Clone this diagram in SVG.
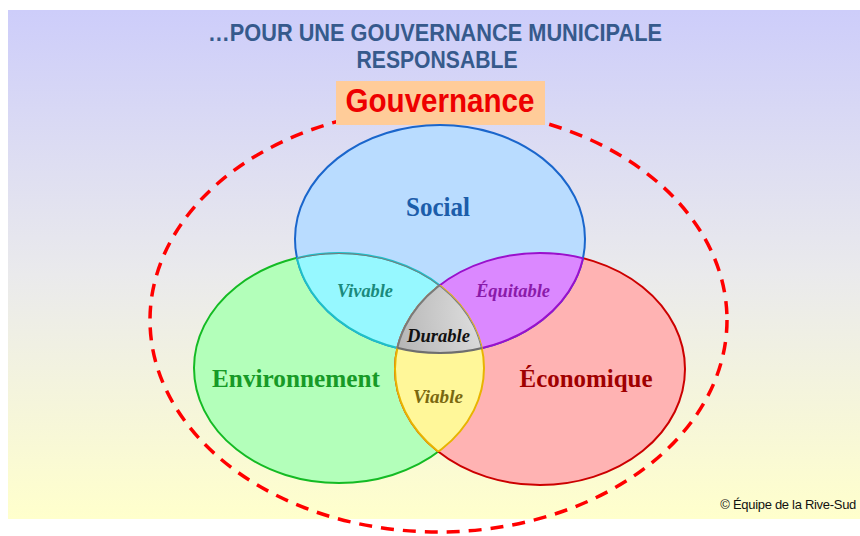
<svg xmlns="http://www.w3.org/2000/svg" width="860" height="536" viewBox="0 0 860 536">
  <defs>
    <linearGradient id="bg" x1="0" y1="0" x2="0" y2="1">
      <stop offset="0" stop-color="#CDCDFA"/>
      <stop offset="0.52" stop-color="#EAEAEC"/>
      <stop offset="1" stop-color="#FFFFCC"/>
    </linearGradient>
    <radialGradient id="gD" cx="0.5" cy="0.25" r="0.7">
      <stop offset="0" stop-color="#FAFAFA"/>
      <stop offset="1" stop-color="#9C9C9C"/>
    </radialGradient>
    <clipPath id="cS"><ellipse cx="440" cy="239" rx="145" ry="114"/></clipPath>
    <clipPath id="cE"><ellipse cx="339" cy="368" rx="145" ry="115"/></clipPath>
    <clipPath id="cC"><ellipse cx="540" cy="369" rx="145" ry="116"/></clipPath>
    <style>
      .title { font-family: "Liberation Sans", Arial, sans-serif; font-weight: bold; font-size: 23px; fill: #365A8C; text-anchor: middle; }
      .main { font-family: "Liberation Serif", "Times New Roman", serif; font-weight: bold; }
      .sub { font-family: "Liberation Serif", "Times New Roman", serif; font-weight: bold; font-style: italic; font-size: 19px; }
      .set { stroke-width: 2; }
    </style>
  </defs>

  <rect x="8" y="10" width="852" height="509" fill="url(#bg)"/>

  <g id="title">
    <text class="title" x="435" y="41" textLength="454" lengthAdjust="spacingAndGlyphs">…POUR UNE GOUVERNANCE MUNICIPALE</text>
    <text class="title" x="437" y="68" textLength="161" lengthAdjust="spacingAndGlyphs">RESPONSABLE</text>
  </g>

  <g id="gouvernance">
    <ellipse cx="438.5" cy="320" rx="288.5" ry="212" fill="none" stroke="#FF0000" stroke-width="3.5" stroke-dasharray="13 9"/>
    <rect x="336" y="81" width="209" height="44" fill="#FFCC99"/>
    <text x="440" y="112" text-anchor="middle" font-family="'Liberation Sans', Arial, sans-serif" font-weight="bold" font-size="33" fill="#EE0000" textLength="189" lengthAdjust="spacingAndGlyphs">Gouvernance</text>
  </g>

  <g id="environnement">
    <ellipse class="set" cx="339" cy="368" rx="145" ry="115" fill="#B3FFBA" stroke="#14BB24"/>
  </g>
  <g id="economique">
    <ellipse class="set" cx="540" cy="369" rx="145" ry="116" fill="#FFB3B3" stroke="#CC0000"/>
  </g>
  <g id="social">
    <ellipse class="set" cx="440" cy="239" rx="145" ry="114" fill="#B9DCFF" stroke="#1A66CC"/>
  </g>

  <g id="vivable">
    <g clip-path="url(#cS)"><ellipse class="set" cx="339" cy="368" rx="145" ry="115" fill="#96F8FF" stroke="#1FC0C8"/></g>
    <g clip-path="url(#cE)"><ellipse class="set" cx="440" cy="239" rx="145" ry="114" fill="none" stroke="#1FC0C8"/></g>
  </g>
  <g id="equitable">
    <g clip-path="url(#cS)"><ellipse class="set" cx="540" cy="369" rx="145" ry="116" fill="#DB88FF" stroke="#9A10CC"/></g>
    <g clip-path="url(#cC)"><ellipse class="set" cx="440" cy="239" rx="145" ry="114" fill="none" stroke="#9A10CC"/></g>
  </g>
  <g id="viable">
    <g clip-path="url(#cC)"><ellipse class="set" cx="339" cy="368" rx="145" ry="115" fill="#FFF799" stroke="#E8B400"/></g>
    <g clip-path="url(#cE)"><ellipse class="set" cx="540" cy="369" rx="145" ry="116" fill="none" stroke="#E8B400"/></g>
  </g>
  <g id="durable">
    <g clip-path="url(#cS)"><g clip-path="url(#cE)">
      <ellipse class="set" cx="540" cy="369" rx="145" ry="116" fill="url(#gD)" stroke="#7A7A7A"/>
      <ellipse class="set" cx="339" cy="368" rx="145" ry="115" fill="none" stroke="#7A7A7A"/>
    </g></g>
    <g clip-path="url(#cE)"><g clip-path="url(#cC)">
      <ellipse class="set" cx="440" cy="239" rx="145" ry="114" fill="none" stroke="#6E6E6E"/>
    </g></g>
  </g>

  <g id="labels">
    <text class="main" x="438" y="216" font-size="28" fill="#1C5DAA" text-anchor="middle" textLength="64" lengthAdjust="spacingAndGlyphs">Social</text>
    <text class="main" x="296" y="387" font-size="26" fill="#179A27" text-anchor="middle" textLength="168" lengthAdjust="spacingAndGlyphs">Environnement</text>
    <text class="main" x="586" y="387" font-size="26" fill="#A00000" text-anchor="middle" textLength="133" lengthAdjust="spacingAndGlyphs">Économique</text>
    <text class="sub" x="365" y="297" fill="#1A8A7C" text-anchor="middle" textLength="56" lengthAdjust="spacingAndGlyphs">Vivable</text>
    <text class="sub" x="513" y="297" fill="#8A1AAA" text-anchor="middle" textLength="74" lengthAdjust="spacingAndGlyphs">Équitable</text>
    <text class="sub" x="438.5" y="342" fill="#111111" text-anchor="middle" textLength="63" lengthAdjust="spacingAndGlyphs">Durable</text>
    <text class="sub" x="438" y="403" fill="#7A6810" text-anchor="middle" textLength="50" lengthAdjust="spacingAndGlyphs">Viable</text>
  </g>

  <g id="copyright">
    <text x="856" y="509" text-anchor="end" font-family="'Liberation Sans', Arial, sans-serif" font-size="13" letter-spacing="-0.3" fill="#111111">© Équipe de la Rive-Sud</text>
  </g>
</svg>
